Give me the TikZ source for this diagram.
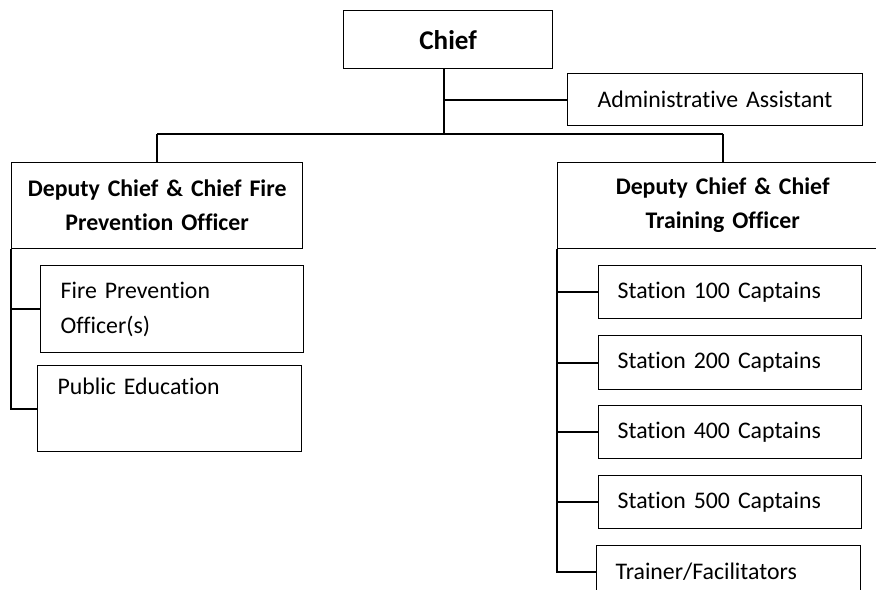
\documentclass[tikz,border=0pt]{standalone}
\usepackage{fontspec}
\setmainfont{Carlito}[RawFeature={-liga;-clig}]
\def\pxu{0.462pt}

\begin{document}
\begin{tikzpicture}[x=0.462pt,y=-0.462pt,
    box/.style={draw,line width=0.6pt,anchor=north west,inner ysep=0pt,
                font=\fontsize{11}{16}\selectfont},
    lbox/.style n args={3}{box,align=left,inner xsep=#3*\pxu,
                text width={(#1-2*#3)*\pxu},minimum height={#2*\pxu}},
    cbox/.style 2 args={box,align=center,inner xsep=4*\pxu,
                text width={(#1-8)*\pxu},minimum height={#2*\pxu},
                font=\fontsize{11}{15.7}\selectfont\bfseries},
    link/.style={line width=1pt}]
            \useasboundingbox (0,0) rectangle (876,590);
            \clip (0,0) rectangle (876,590);

            \node (chief) at (343,10) [cbox={209}{58},font=\fontsize{12.5}{15}\selectfont\bfseries] {Chief};
            \node (admin) at (567,73) [lbox={295}{52}{30}] {Administrative Assistant};

            \node (depfire) at (11,162) [cbox={291}{86}] {Deputy Chief \& Chief Fire\\Prevention Officer};
            \node (deptrain) at (557,162) [cbox={330}{86}] {Deputy Chief \& Chief\\Training Officer};

            \node (fpo) at (40,265) [lbox={263}{87}{20}] {Fire Prevention\\Officer(s)};
            \node (pubed) at (37,365) [lbox={264}{86}{20}] {Public Education\\\strut};

            \node (st100) at (598,265) [lbox={263}{53}{19}] {Station 100 Captains};
            \node (st200) at (598,335) [lbox={263}{54}{19}] {Station 200 Captains};
            \node (st400) at (598,405) [lbox={263}{53}{19}] {Station 400 Captains};
            \node (st500) at (598,475) [lbox={263}{53}{19}] {Station 500 Captains};
            \node (trainer) at (596,545) [lbox={264}{53}{19}] {Trainer/Facilitators};

            \coordinate (bus) at (444,134);

            \draw[link] (bus |- chief.south) -- (bus) (bus |- admin.west) -- (admin.west);
            \draw[link] (depfire.north |- bus) -- (deptrain.north |- bus);
            \draw[link] (depfire.north |- bus) -- (depfire.north) (deptrain.north |- bus) -- (deptrain.north);

            \draw[link] (depfire.south west) |- (pubed.west) (depfire.south west |- fpo.west) -- (fpo.west);

            \draw[link] (deptrain.south west) |- (trainer.west);
            \foreach \s in {st100,st200,st400,st500}
                \draw[link] (deptrain.south west |- \s.west) -- (\s.west);

        \end{tikzpicture}
\end{document}
